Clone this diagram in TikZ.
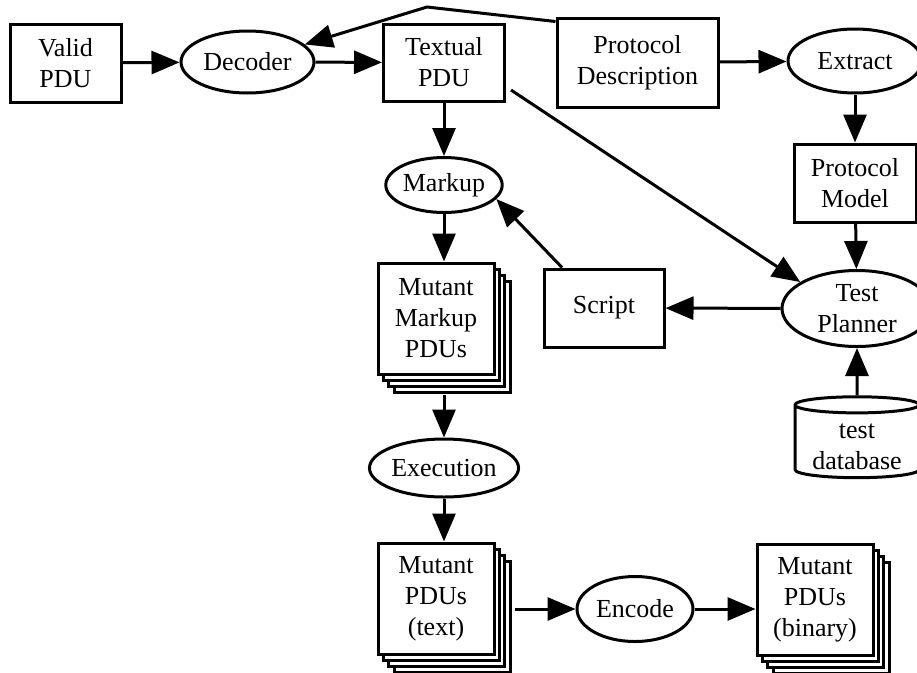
\documentclass[tikz,border=0pt]{standalone}
\usepackage{fontspec}
\setmainfont{Liberation Serif}
\usetikzlibrary{arrows.meta, shapes.geometric, shadows}

\begin{document}
\begin{tikzpicture}[x=1pt, y=-1pt,
  every node/.style={font=\fontsize{26}{31}\selectfont},
  box/.style={draw, line width=3pt, fill=white, inner sep=0pt, align=center},
  oval/.style={ellipse, draw, line width=3pt, inner sep=0pt, align=center},
  stack/.style={box, minimum width=116pt, minimum height=111pt,
    copy shadow={shadow xshift=16pt, shadow yshift=-18pt, line width=3pt},
    copy shadow={shadow xshift=10.5pt, shadow yshift=-12pt, line width=3pt},
    copy shadow={shadow xshift=5pt, shadow yshift=-6pt, line width=3pt}},
  arr/.style={line width=3pt, -{Triangle[length=28pt, width=23pt]}}]

% Frame
\path[use as bounding box, fill=white] (0,0) rectangle (917,672);

% Top row
\node[box, minimum width=111pt, minimum height=78pt] (valid) at (65.5,63) {Valid\\PDU};
\node[oval, minimum width=133pt, minimum height=62pt] (decoder) at (247.5,62) {Decoder};
\node[box, minimum width=121pt, minimum height=77pt] (textual) at (444,62.5) {Textual\\PDU};
\node[box, minimum width=161pt, minimum height=89pt] (protdesc) at (637.5,62.5) {Protocol\\Description};
\node[oval, minimum width=134pt, minimum height=64pt] (extract) at (855,61) {Extract};

% Middle part
\node[box, minimum width=122pt, minimum height=78pt] (model) at (855,183) {Protocol\\Model};
\node[oval, minimum width=114pt, minimum height=55pt] (markup) at (444,185) {Markup};
\node[stack] (mutmark) at (436,318.5) {Mutant\\Markup\\PDUs};
\node[box, minimum width=120pt, minimum height=78pt] (script) at (604,308) {Script};
\node[oval, minimum width=150pt, minimum height=76pt] (planner) at (857,308.5) {Test\\Planner};
\node[cylinder, shape border rotate=90, draw, line width=3pt, aspect=0.18,
  minimum width=124pt, minimum height=74pt, inner sep=0pt, align=center] (db) at (857,442)
  {\rule{0pt}{24pt}test\\database};

% Bottom part
\node[oval, minimum width=136pt, minimum height=58pt] (exec) at (444,468) {Execution};
\node[stack] (muttext) at (436,598.5) {Mutant\\PDUs\\(text)};
\node[oval, minimum width=116pt, minimum height=65pt] (encode) at (635,609) {Encode};
\node[stack] (mutbin) at (815,599.5) {Mutant\\PDUs\\(binary)};

% Arrows of the top row
\coordinate (bend) at (427,7);
\draw[arr] (valid) -- (decoder);
\draw[arr] (decoder) -- (textual);
\draw[arr] ([yshift=-5pt]protdesc.north west) -- (bend) -- (decoder);
\draw[arr] (protdesc) -- (extract);
\draw[arr] (extract) -- (model);

% Arrows round the planner
\draw[arr] (model) -- (planner);
\draw[arr] (db) -- (planner);
\draw[arr] (planner) -- (script);
\draw[arr] ([xshift=-42pt]script.north) -- (markup.-15);
\draw[arr] ([xshift=5pt, yshift=-27.5pt]textual.east) -- (planner.155);

% Arrows down the left column
\coordinate (mutmarkbot) at ([yshift=-19pt]mutmark.south);
\coordinate (muttextright) at ([xshift=19pt]muttext.east);
\draw[arr] (textual) -- (markup);
\draw[arr] (markup) -- (markup |- mutmark.north);
\draw[arr] (mutmarkbot -| exec) -- (exec);
\draw[arr] (exec) -- (exec |- muttext.north);
\draw[arr] (muttextright |- encode) -- (encode);
\draw[arr] (encode) -- (encode -| mutbin.west);

\end{tikzpicture}
\end{document}
